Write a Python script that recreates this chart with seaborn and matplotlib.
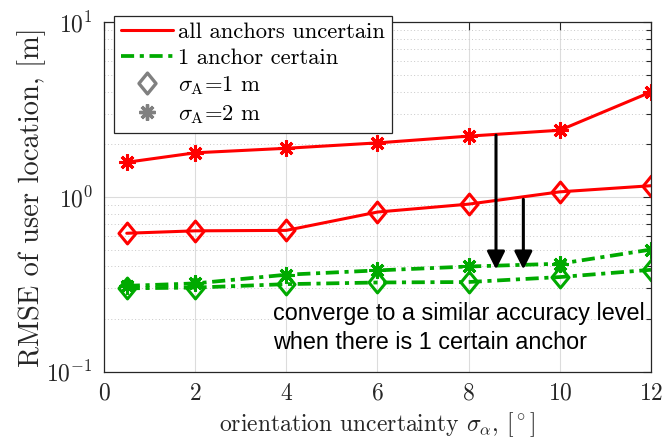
import numpy as np
import pandas as pd
import matplotlib
matplotlib.use("Agg")
import matplotlib.pyplot as plt
from matplotlib.lines import Line2D
from matplotlib.path import Path
import seaborn as sns

# orientation uncertainty [deg]
sigma_alpha = [0.5, 2, 4, 6, 8, 10, 12]

# RMSE [m]
all_unc_sA2 = [1.58, 1.79, 1.90, 2.04, 2.23, 2.41, 3.99]
all_unc_sA1 = [0.62, 0.64, 0.644, 0.82, 0.91, 1.07, 1.16]
one_cert_sA2 = [0.31, 0.32, 0.359, 0.38, 0.40, 0.415, 0.50]
one_cert_sA1 = [0.30, 0.303, 0.317, 0.324, 0.326, 0.348, 0.383]

legend_labels = ["all anchors uncertain", "1 anchor certain",
                 r"$\sigma_{\rm A}$=1 m", r"$\sigma_{\rm A}$=2 m"]

RED = "#ff0000"
GREEN = "#00aa00"
GRAY = "#808080"

sns.set_theme(style="white")
plt.rcParams["font.family"] = ["cmr10", "DejaVu Serif"]
plt.rcParams["mathtext.fontset"] = "cm"
plt.rcParams["axes.formatter.use_mathtext"] = True
plt.rcParams["axes.unicode_minus"] = False

diamond = Path([(0, 1), (0.82, 0), (0, -1), (-0.82, 0), (0, 1)],
               [Path.MOVETO, Path.LINETO, Path.LINETO, Path.LINETO, Path.CLOSEPOLY])
star = (8, 2, 0)
dashdot = (0, (3.5, 1.5, 1.1, 1.5))

fig = plt.figure(figsize=(6.64, 4.43), dpi=100)
ax = fig.add_axes([0.1566, 0.161, 0.8238, 0.7887])

series = [
    (all_unc_sA2, RED, "-", star, 2.2),
    (all_unc_sA1, RED, "-", diamond, 2.2),
    (one_cert_sA2, GREEN, dashdot, star, 2.7),
    (one_cert_sA1, GREEN, dashdot, diamond, 2.7),
]
for vals, col, ls, mk, lw in series:
    df = pd.DataFrame({"x": sigma_alpha, "y": vals})
    sns.lineplot(data=df, x="x", y="y", ax=ax, color=col, linestyle=ls, lw=lw,
                 marker=mk, markersize=15 if mk is diamond else 11.5,
                 markerfacecolor="none" if mk is diamond else col,
                 markeredgecolor=col, markeredgewidth=2.2)

ax.set_yscale("log")
ax.set_xlim(0, 12)
ax.set_ylim(0.1, 10)
ax.set_xticks(range(0, 13, 2))

ax.grid(True, which="major", color="#dcdcdc", lw=0.8)
ax.grid(True, which="minor", axis="y", color="#c8c8c8", lw=0.7, linestyle=(0, (1, 2.5)))
ax.tick_params(which="both", direction="in", top=True, right=True, color="#262626",
               labelsize=17, width=0.8, labelcolor="#262626")
ax.tick_params(which="major", length=6, pad=8)
ax.tick_params(which="minor", length=3.5)
ax.tick_params(axis="x", which="minor", bottom=False, top=False)
for s in ax.spines.values():
    s.set_color("#262626")
    s.set_linewidth(0.9)

ax.set_xlabel(r"orientation uncertainty $\sigma_\alpha$, [$^\circ$]", fontsize=17,
              labelpad=4, color="#262626")
ax.set_ylabel("RMSE of user location, [m]", fontsize=20.5, labelpad=0, color="#262626")

# arrows and note
for xa, ytop in [(8.6, 2.26), (9.2, 0.97)]:
    ax.annotate("", xy=(xa, 0.385), xytext=(xa, ytop),
                arrowprops=dict(arrowstyle="-|>,head_length=0.9,head_width=0.45",
                                color="black", lw=2.2, shrinkA=0, shrinkB=0))
ax.text(3.7, 0.178, "converge to a similar accuracy level\nwhen there is 1 certain anchor",
        family="Liberation Sans", fontsize=16.8, va="center", ha="left",
        linespacing=1.35, color="black")

handles = [
    Line2D([], [], color=RED, lw=2.2),
    Line2D([], [], color=GREEN, lw=2.7, linestyle=dashdot),
    Line2D([], [], color=GRAY, lw=0, marker=diamond, markersize=15,
           markerfacecolor="none", markeredgewidth=2.4),
    Line2D([], [], color=GRAY, lw=0, marker=star, markersize=11.5, markeredgewidth=2.4),
]
leg = ax.legend(handles, legend_labels, loc="upper left", bbox_to_anchor=(0.018, 1.019),
                borderaxespad=0, fontsize=16.3, frameon=True, fancybox=False,
                edgecolor="#262626", framealpha=1, handlelength=2.3, handletextpad=0.25,
                labelspacing=0.27, borderpad=0.3)
leg.get_frame().set_linewidth(0.9)
for t in leg.get_texts():
    t.set_color("black")

fig.savefig("out.png", dpi=100)
